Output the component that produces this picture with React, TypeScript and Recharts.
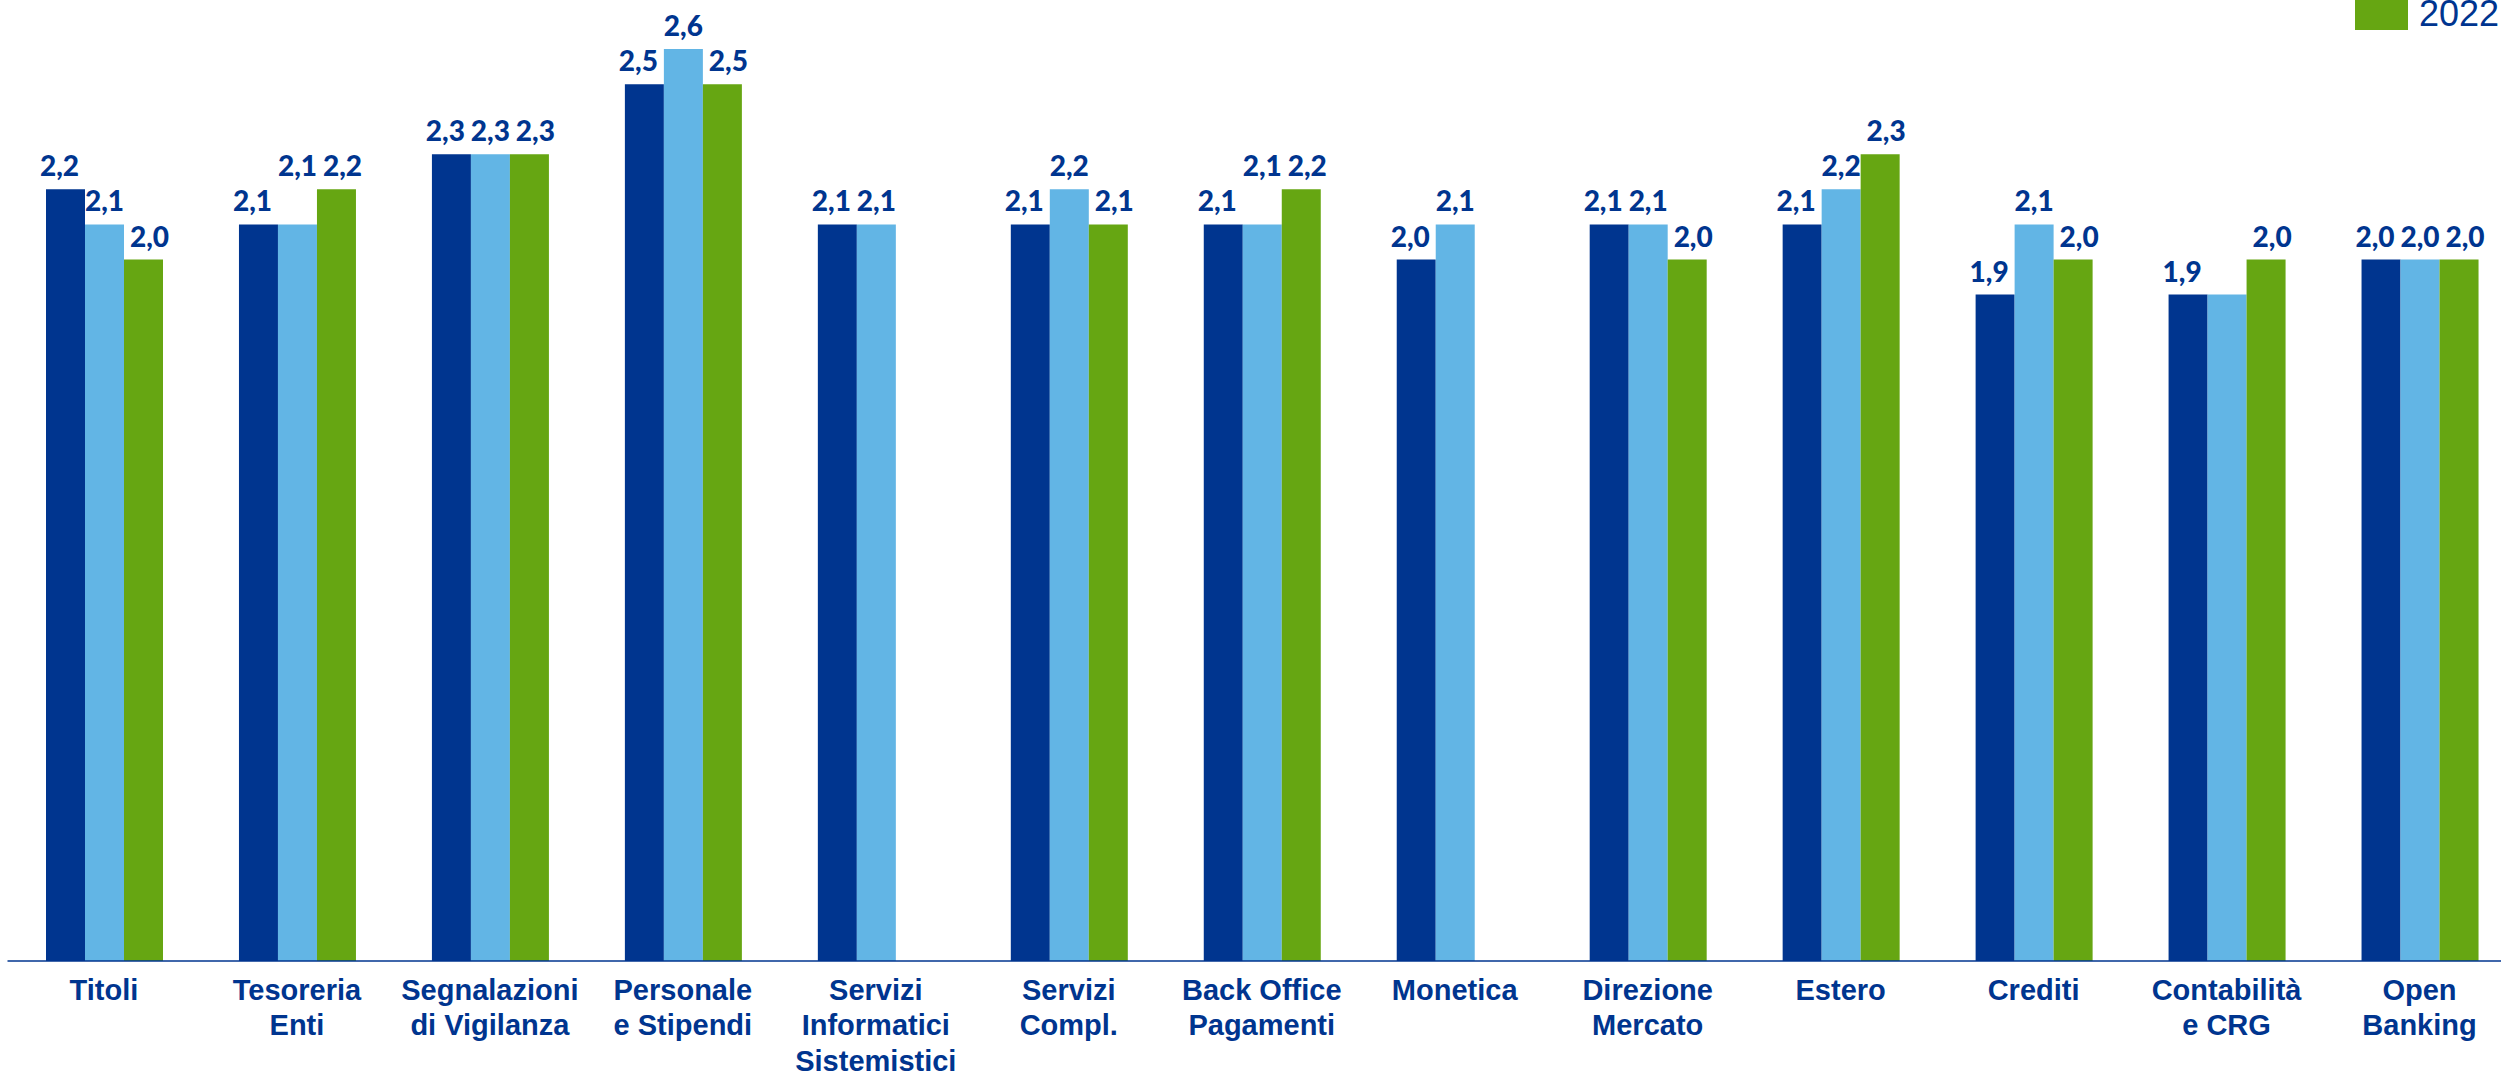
import { Bar, BarChart, LabelList, Legend, XAxis, YAxis } from "recharts"

const categories = [
    "Titoli",
    "Tesoreria\nEnti",
    "Segnalazioni\ndi Vigilanza",
    "Personale\ne Stipendi",
    "Servizi\nInformatici\nSistemistici",
    "Servizi\nCompl.",
    "Back Office\nPagamenti",
    "Monetica",
    "Direzione\nMercato",
    "Estero",
    "Crediti",
    "Contabilità\ne CRG",
    "Open\nBanking",
]

const values2020 = [2.2, 2.1, 2.3, 2.5, 2.1, 2.1, 2.1, 2.0, 2.1, 2.1, 1.9, 1.9, 2.0]
const values2021 = [2.1, 2.1, 2.3, 2.6, 2.1, 2.2, 2.1, 2.1, 2.1, 2.2, 2.1, 1.9, 2.0]
const values2022 = [2.0, 2.2, 2.3, 2.5, null, 2.1, 2.2, null, 2.0, 2.3, 2.0, 2.0, 2.0]

const seriesNames = ["2020", "2021", "2022"]

// labels that were moved by hand in the original
const raisedLabels2021 = ["Tesoreria\nEnti", "Back Office\nPagamenti"]
const hiddenLabels2021 = ["Contabilità\ne CRG"]

const data = categories.map((name, i) => ({
    name,
    y2020: values2020[i],
    y2021: values2021[i],
    y2022: values2022[i],
}))

const DARK = "#00358F"
const LIGHT = "#62B5E5"
const GREEN = "#66A612"

const fmt = (v: number) => v.toFixed(1).replace(".", ",")

function makeLabel(dx: number, raised: string[] = [], hidden: string[] = []) {
    return (props: any) => {
        const { x, y, width, value, index } = props
        if (value == null) return null
        const cat = categories[index]
        if (hidden.includes(cat)) return null
        const lift = raised.includes(cat) ? 35 : 0
        return (
            <text
                x={Number(x) + Number(width) / 2 + dx}
                y={Number(y) - 13 - lift}
                textAnchor="middle"
                fill={DARK}
                fontFamily="Lato, 'Open Sans', sans-serif"
                fontWeight={900}
                fontSize={28}
            >
                {fmt(Number(value))}
            </text>
        )
    }
}

const CategoryTick = (props: any) => {
    const { x, y, payload } = props
    const lines = String(payload.value).split("\n")
    return (
        <text
            x={x}
            y={y}
            textAnchor="middle"
            fill={DARK}
            fontFamily="'Liberation Sans', Arial, sans-serif"
            fontWeight="bold"
            fontSize={29}
        >
            {lines.map((line, i) => (
                <tspan key={i} x={x} dy={i === 0 ? 38.5 : 35.7}>
                    {line}
                </tspan>
            ))}
        </text>
    )
}

const LegendContent = (props: any) => {
    const items = (props.payload || []).filter((p: any) => p.value === seriesNames[2])
    return (
        <div style={{ position: "relative", width: 146, height: 30 }}>
            {items.map((item: any) => (
                <div key={item.value}>
                    <div style={{ position: "absolute", left: 0, top: 0, width: 53, height: 30, background: item.color }} />
                    <div
                        style={{
                            position: "absolute",
                            left: 64,
                            top: -4,
                            fontFamily: "'Liberation Sans', Arial, sans-serif",
                            fontSize: 36,
                            lineHeight: "36px",
                            color: DARK,
                            whiteSpace: "nowrap",
                        }}
                    >
                        {item.value}
                    </div>
                </div>
            ))}
        </div>
    )
}

export default function App() {
    return (
        <div style={{ position: "fixed", left: 0, top: 0, width: 2501, height: 1071, overflow: "hidden", background: "#fff" }}>
            <BarChart
                width={2516}
                height={1071}
                data={data}
                margin={{ top: 14, right: 0, bottom: 0, left: 7.5 }}
                barCategoryGap={38.5}
                barGap={0}
            >
                <XAxis
                    dataKey="name"
                    interval={0}
                    height={110}
                    tickLine={false}
                    tickSize={0}
                    tickMargin={0}
                    axisLine={{ stroke: DARK, strokeWidth: 1.5 }}
                    tick={<CategoryTick />}
                />
                <YAxis hide domain={[0, 2.7]} allowDataOverflow />
                <Legend
                    layout="horizontal"
                    align="center"
                    verticalAlign="middle"
                    content={<LegendContent />}
                    wrapperStyle={{ position: "absolute", left: 2355, top: 0, width: 146, height: 30 }}
                />
                <Bar dataKey="y2020" name={seriesNames[0]} fill={DARK} isAnimationActive={false}>
                    <LabelList dataKey="y2020" content={makeLabel(-6)} />
                </Bar>
                <Bar dataKey="y2021" name={seriesNames[1]} fill={LIGHT} isAnimationActive={false}>
                    <LabelList dataKey="y2021" content={makeLabel(0, raisedLabels2021, hiddenLabels2021)} />
                </Bar>
                <Bar dataKey="y2022" name={seriesNames[2]} fill={GREEN} isAnimationActive={false}>
                    <LabelList dataKey="y2022" content={makeLabel(6)} />
                </Bar>
            </BarChart>
        </div>
    )
}
